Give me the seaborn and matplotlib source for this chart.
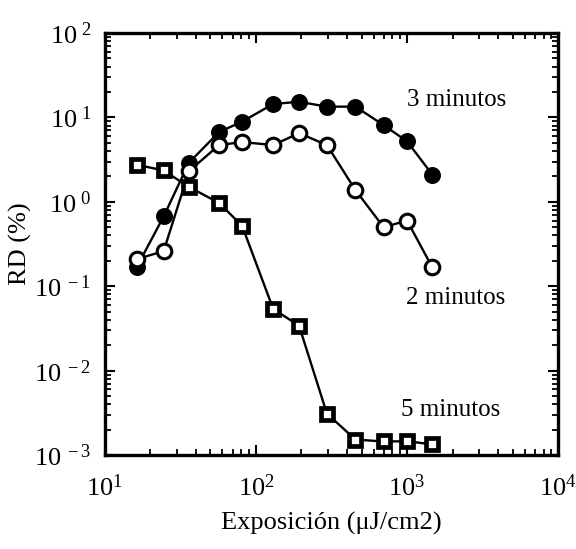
import matplotlib
matplotlib.use("Agg")
import matplotlib.pyplot as plt
import matplotlib.ticker as mticker
import numpy as np
import pandas as pd
import seaborn as sns

# ---- data ----
exposure = [16.3, 24.5, 36, 57, 81, 130, 193, 295, 455, 700, 1000, 1470]
rd_3min = [0.17, 0.67, 2.9, 6.7, 8.9, 14.4, 15.3, 13.4, 13.4, 8.1, 5.2, 2.1]
rd_2min = [0.21, 0.26, 2.3, 4.7, 5.1, 4.7, 6.5, 4.7, 1.38, 0.50, 0.60, 0.167]
rd_5min = [2.75, 2.35, 1.5, 0.97, 0.52, 0.054, 0.034, 0.0031, 0.00153, 0.00145, 0.00146, 0.00134]
series_labels = ["3 minutos", "2 minutos", "5 minutos"]
x_ticks = [10, 100, 1000, 10000]
x_ticklabels = ["10$^{1}$", "10$^{2}$", "10$^{3}$", "10$^{4}$"]
y_ticks = [1e-3, 1e-2, 1e-1, 1e0, 1e1, 1e2]
y_ticklabels = ["10$^{\\ -3}$", "10$^{\\ -2}$", "10$^{\\ -1}$",
                "10$^{\\ 0}$", "10$^{\\ 1}$", "10$^{\\ 2}$"]

sns.set_style("ticks")
plt.rcParams["font.family"] = ["Liberation Serif", "DejaVu Serif"]
plt.rcParams["mathtext.fontset"] = "custom"
plt.rcParams["mathtext.rm"] = "Liberation Serif"
plt.rcParams["mathtext.it"] = "Liberation Serif:italic"
plt.rcParams["mathtext.bf"] = "Liberation Serif:bold"
plt.rcParams["text.color"] = "black"
plt.rcParams["axes.labelcolor"] = "black"

fig = plt.figure(figsize=(5.76, 5.49), dpi=100)
ax = fig.add_axes([0.182, 0.171, 0.787, 0.769])

df3 = pd.DataFrame({"x": exposure, "y": rd_3min})
df2 = pd.DataFrame({"x": exposure, "y": rd_2min})
df5 = pd.DataFrame({"x": exposure, "y": rd_5min})

sns.lineplot(data=df3, x="x", y="y", ax=ax, color="black", lw=1.7,
             marker="o", markersize=11, markerfacecolor="black",
             markeredgecolor="black", markeredgewidth=1.2, zorder=3)
sns.lineplot(data=df2, x="x", y="y", ax=ax, color="black", lw=1.7,
             marker="o", markersize=10.5, markerfacecolor="white",
             markeredgecolor="black", markeredgewidth=2.2, zorder=4)
sns.lineplot(data=df5, x="x", y="y", ax=ax, color="black", lw=1.7,
             marker="s", markersize=9, markerfacecolor="white",
             markeredgecolor="black", markeredgewidth=3.4, zorder=5)

ax.set_xscale("log")
ax.set_yscale("log")
ax.set_xlim(10, 10000)
ax.set_ylim(1e-3, 1e2)

ax.xaxis.set_major_locator(mticker.FixedLocator(x_ticks))
ax.xaxis.set_major_formatter(mticker.FixedFormatter(x_ticklabels))
ax.yaxis.set_major_locator(mticker.FixedLocator(y_ticks))
ax.yaxis.set_major_formatter(mticker.FixedFormatter(y_ticklabels))
ax.xaxis.set_minor_locator(mticker.LogLocator(base=10, subs=np.arange(2, 10), numticks=20))
ax.yaxis.set_minor_locator(mticker.LogLocator(base=10, subs=np.arange(2, 10), numticks=20))
ax.xaxis.set_minor_formatter(mticker.NullFormatter())
ax.yaxis.set_minor_formatter(mticker.NullFormatter())

ax.tick_params(which="both", direction="in", top=True, right=True, colors="black")
ax.tick_params(which="major", length=7, width=1.5, labelsize=19)
ax.tick_params(axis="x", which="major", pad=14)
ax.tick_params(axis="y", which="major", pad=10)
ax.tick_params(which="minor", length=4, width=1.3)
for s in ax.spines.values():
    s.set_linewidth(2.4)
    s.set_color("black")

ax.set_xlabel("Exposición (μJ/cm2)", fontsize=19, labelpad=8)
ax.set_ylabel("RD (%)", fontsize=19)
ax.yaxis.set_label_coords(-0.16, 0.5)

ax.text(0.777, 0.841, series_labels[0], transform=ax.transAxes, fontsize=18,
        ha="center", va="center")
ax.text(0.773, 0.372, series_labels[1], transform=ax.transAxes, fontsize=18,
        ha="center", va="center")
ax.text(0.762, 0.107, series_labels[2], transform=ax.transAxes, fontsize=18,
        ha="center", va="center")

fig.savefig("out.png", dpi=100, facecolor="white")
